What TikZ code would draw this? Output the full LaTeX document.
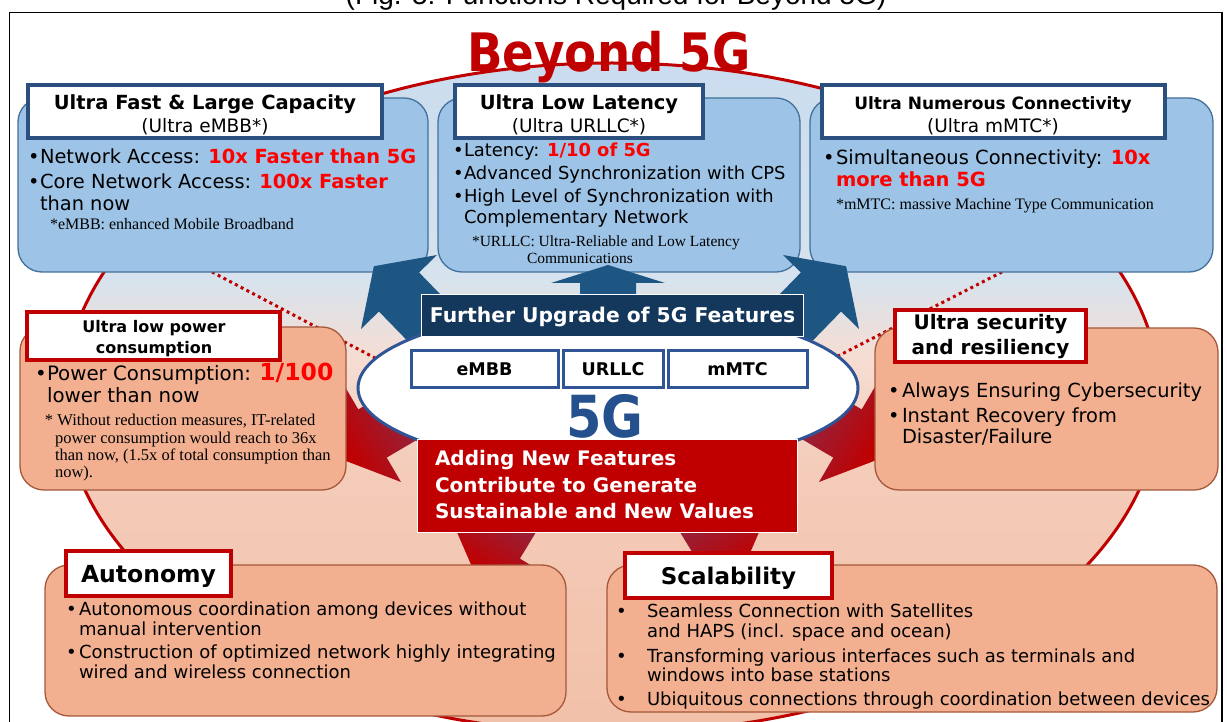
\documentclass[tikz,border=0pt]{standalone}
\usepackage{fontspec}
\setmainfont{DejaVu Sans}
\newfontfamily\notefont{Liberation Serif}
\newfontfamily\capfont{Liberation Sans}
\newfontfamily\titlefont{DejaVu Sans}[FakeStretch=0.88]
\usetikzlibrary{shapes.geometric}

\definecolor{boxblue}{HTML}{9DC3E6}
\definecolor{boxblueb}{HTML}{41719C}
\definecolor{navyb}{HTML}{2B4F7E}
\definecolor{salmon}{HTML}{F2B091}
\definecolor{salmonb}{HTML}{A5583A}
\definecolor{darkred}{HTML}{C00000}
\definecolor{brightred}{HTML}{FF0000}
\definecolor{arrowblue}{HTML}{1D5583}
\definecolor{navyfill}{HTML}{14375C}
\definecolor{fgblue}{HTML}{24508E}
\definecolor{ellb}{HTML}{2F5597}
\definecolor{arrowpurple}{HTML}{6A4577}
\definecolor{bgA}{HTML}{F2C0A8}
\definecolor{bgB}{HTML}{F4CCBA}
\definecolor{bgC}{HTML}{F6DDD3}
\definecolor{bgD}{HTML}{D6E3EE}
\definecolor{bgE}{HTML}{CADCEE}
\pgfdeclareverticalshading{bgshade}{100bp}{color(0bp)=(bgA); color(25bp)=(bgA); color(45bp)=(bgB); color(53bp)=(bgC); color(59bp)=(bgD); color(75bp)=(bgE); color(100bp)=(bgE)}

\newcommand\fs[2]{\fontsize{#1}{#2}\selectfont}
\newcommand\rd[1]{{\bfseries\color{brightred}#1}}

\begin{document}
\begin{tikzpicture}[x=1pt,y=-1pt,
  every node/.style={inner sep=0pt, outer sep=0pt},
  topbox/.style={draw=boxblueb, fill=boxblue, line width=1.3pt, rounded corners=24pt},
  sidebox/.style={draw=salmonb, fill=salmon, line width=1.3pt, rounded corners=24pt},
  ttlblue/.style={draw=navyb, fill=white, line width=3.2pt},
  ttlred/.style={draw=darkred, fill=white, line width=3.5pt},
  featbox/.style={draw=ellb, fill=white, line width=3pt},
  tx/.style={anchor=base west, text=black},
  tc/.style={anchor=base, text=black},
  body/.style={font=\fs{19.4}{22}},
  bodym/.style={font=\fs{17.9}{22}},
  bodyn/.style={font=\fs{18}{21}},
  note/.style={font=\notefont\fs{16}{18}},
  hd/.style={font=\bfseries\fs{19.5}{22}},
  sub/.style={font=\fs{18.5}{22}},
  bluearrow/.style={fill=arrowblue},
  redarrow/.style={left color=arrowpurple, right color=darkred},
  dotline/.style={draw=darkred, line width=3pt, dash pattern=on 3pt off 3.5pt}]
\useasboundingbox (0,0) rectangle (1227,722);
\clip (0,0) rectangle (1227,722);
\fill[white] (0,0) rectangle (1227,722);

% caption and frame
\node[font=\capfont\fs{28}{30}, anchor=base] (cap) at (616,5) {(Fig. 5: Functions Required for Beyond 5G)};
\draw[line width=1.5pt, fill=white] (9.5,12.5) rectangle (1222,740);

% big background ellipse
\shadedraw[shading=bgshade, draw=darkred, line width=3pt] (612,398) ellipse [x radius=548, y radius=335];
\node[font=\titlefont\bfseries\fs{53}{60}, text=darkred, anchor=base] (b5g) at (609,72) {Beyond 5G};

% dotted connectors
\coordinate (dl1) at (212,272); \coordinate (dl2) at (375,358);
\coordinate (dr1) at (1002,272); \coordinate (dr2) at (838,356);
\draw[dotline] (dl1) -- (dl2);
\draw[dotline] (dr1) -- (dr2);

% top boxes
\node[topbox, minimum width=410pt, minimum height=174pt] (tlbox) at (223,185) {};
\node[topbox, minimum width=362pt, minimum height=174pt] (tmbox) at (619,185) {};
\node[topbox, minimum width=403pt, minimum height=174pt] (trbox) at (1011.5,185) {};
\node[ttlblue, minimum width=354pt, minimum height=53pt] (tlt) at (205,111.5) {};
\node[ttlblue, minimum width=248pt, minimum height=53pt] (tmt) at (579,111.5) {};
\node[ttlblue, minimum width=343pt, minimum height=53pt] (trt) at (993.5,111.5) {};

% blue arrows
\fill[bluearrow] (441.7,376.0) -- (378.9,311.5) -- (361,329) -- (373.9,266.2) -- (437,255) -- (419.1,272.5) -- (481.9,337.0) -- cycle;
\fill[bluearrow] (778.3,376.0) -- (841.1,311.5) -- (859,329) -- (846.1,266.2) -- (783,255) -- (800.9,272.5) -- (738.1,337.0) -- cycle;
\fill[bluearrow] (580,300) -- (580,283) -- (551,283) -- (608,265) -- (665,283) -- (636,283) -- (636,300) -- cycle;

% top-left texts
\node[tc, hd] (tlh) at (205,110) {Ultra Fast \& Large Capacity};
\node[tc, sub] (tls) at (205,133) {(Ultra eMBB*)};
\node[tx, body] (tlb1) at (28,164) {•};
\node[tx, body] (tll1) at (40,164) {Network Access: \rd{10x Faster than 5G}};
\node[tx, body] (tlb2) at (28,189) {•};
\node[tx, body] (tll2) at (40,189) {Core Network Access: \rd{100x Faster}};
\node[tx, body] (tll3) at (40,211) {than now};
\node[tx, note] (tln) at (50,230) {*eMBB: enhanced Mobile Broadband};

% top-middle texts
\node[tc, hd] (tmh) at (579,110) {Ultra Low Latency};
\node[tc, sub] (tms) at (579,133) {(Ultra URLLC*)};
\node[tx, bodym] (tmb1) at (453,157) {•};
\node[tx, bodym] (tml1) at (464,157) {Latency: \rd{1/10 of 5G}};
\node[tx, bodym] (tmb2) at (453,180) {•};
\node[tx, bodym] (tml2) at (464,180) {Advanced Synchronization with CPS};
\node[tx, bodym] (tmb3) at (453,203) {•};
\node[tx, bodym] (tml3) at (464,203) {High Level of Synchronization with};
\node[tx, bodym] (tml4) at (464,224) {Complementary Network};
\node[tx, font=\notefont\fs{15.5}{18}] (tmn1) at (472,247) {*URLLC: Ultra-Reliable and Low Latency};
\node[tx, font=\notefont\fs{15.5}{18}] (tmn2) at (527,264) {Communications};

% top-right texts
\node[tc, font=\bfseries\fs{17}{20}] (trh) at (993,110) {Ultra Numerous Connectivity};
\node[tc, sub] (trs) at (993,133) {(Ultra mMTC*)};
\node[tx, font=\fs{19.5}{22}] (trb1) at (823,165) {•};
\node[tx, font=\fs{19.5}{22}] (trl1) at (836,165) {Simultaneous Connectivity: \rd{10x}};
\node[tx, font=\fs{19.5}{22}] (trl2) at (836,187) {\rd{more than 5G}};
\node[tx, note] (trn) at (836,210) {*mMTC: massive Machine Type Communication};

% red arrows (under side boxes)
\path[redarrow, shading angle=300.4] (453.1,353.7) -- (358.3,409.4) -- (344,385) -- (333.7,456.3) -- (401,482) -- (386.7,457.6) -- (481.5,401.9) -- cycle;
\path[redarrow, shading angle=59.6] (766.9,353.7) -- (861.7,409.4) -- (876,385) -- (886.3,456.3) -- (819,482) -- (833.3,457.6) -- (738.5,401.9) -- cycle;
\path[redarrow, shading angle=328.7] (518.9,452.5) -- (472.1,529.4) -- (449.9,515.9) -- (476.2,576.5) -- (542.1,572.1) -- (519.9,558.6) -- (566.7,481.7) -- cycle;
\path[redarrow, shading angle=31.3] (697.1,452.5) -- (743.9,529.4) -- (766.1,515.9) -- (739.8,576.5) -- (673.9,572.1) -- (696.1,558.6) -- (649.3,481.7) -- cycle;

% side and bottom boxes
\node[sidebox, minimum width=326pt, minimum height=163pt] (mlbox) at (183,408.5) {};
\node[sidebox, minimum width=343pt, minimum height=162pt] (mrbox) at (1046.5,409) {};
\node[sidebox, minimum width=521pt, minimum height=151pt] (blbox) at (305.5,640.5) {};
\node[sidebox, minimum width=610pt, minimum height=147pt] (brbox) at (912,638.5) {};
\node[ttlred, minimum width=253pt, minimum height=48pt] (mlt) at (153.5,336) {};
\node[ttlred, minimum width=191pt, minimum height=52pt] (mrt) at (990.5,336) {};
\node[ttlred, minimum width=165pt, minimum height=45pt] (blt) at (148.5,573.5) {};
\node[ttlred, minimum width=207pt, minimum height=45pt] (brt) at (728.5,575.5) {};

% middle-left texts
\node[tc, font=\bfseries\fs{16}{19}] (mlh1) at (154,333) {Ultra low power};
\node[tc, font=\bfseries\fs{16}{19}] (mlh2) at (154,353) {consumption};
\node[tx, font=\fs{19.8}{22}] (mlb1) at (35,380) {•};
\node[tx, font=\fs{19.8}{22}] (mll1) at (47,380) {Power Consumption: {\bfseries\color{brightred}\fs{23.5}{22}1/100}};
\node[tx, font=\fs{19.8}{22}] (mll2) at (47,402) {lower than now};
\node[tx, font=\notefont\fs{16.5}{18}] (mln1) at (45,425) {* Without reduction measures, IT-related};
\node[tx, font=\notefont\fs{16.5}{18}] (mln2) at (55,443) {power consumption would reach to 36x};
\node[tx, font=\notefont\fs{16.5}{18}] (mln3) at (55,460) {than now, (1.5x of total consumption than};
\node[tx, font=\notefont\fs{16.5}{18}] (mln4) at (55,477) {now).};

% middle-right texts
\node[tc, font=\bfseries\fs{20}{22}] (mrh1) at (990.5,329) {Ultra security};
\node[tc, font=\bfseries\fs{20}{22}] (mrh2) at (990.5,354) {and resiliency};
\node[tx, body] (mrb1) at (888,397) {•};
\node[tx, body] (mrl1) at (902,397) {Always Ensuring Cybersecurity};
\node[tx, body] (mrb2) at (888,422) {•};
\node[tx, body] (mrl2) at (902,422) {Instant Recovery from};
\node[tx, body] (mrl3) at (902,443) {Disaster/Failure};

% bottom-left texts
\node[tc, font=\bfseries\fs{23.5}{26}] (blh) at (148.5,582) {Autonomy};
\node[tx, bodyn] (blb1) at (66,615) {•};
\node[tx, bodyn] (bll1) at (79,615) {Autonomous coordination among devices without};
\node[tx, bodyn] (bll2) at (79,635) {manual intervention};
\node[tx, bodyn] (blb2) at (66,658) {•};
\node[tx, bodyn] (bll3) at (79,658) {Construction of optimized network highly integrating};
\node[tx, bodyn] (bll4) at (79,678) {wired and wireless connection};

% bottom-right texts
\node[tc, font=\bfseries\fs{23}{26}] (brh) at (728.5,584) {Scalability};
\node[tx, bodyn] (brb1) at (616,617) {•};
\node[tx, bodyn] (brl1) at (647,617) {Seamless Connection with Satellites};
\node[tx, bodyn] (brl2) at (647,637) {and HAPS (incl. space and ocean)};
\node[tx, bodyn] (brb2) at (616,662) {•};
\node[tx, bodyn] (brl3) at (647,662) {Transforming various interfaces such as terminals and};
\node[tx, bodyn] (brl4) at (647,681) {windows into base stations};
\node[tx, bodyn] (brb3) at (616,705) {•};
\node[tx, bodyn] (brl5) at (647,705) {Ubiquitous connections through coordination between devices};

% central 5G core
\node[ellipse, draw=ellb, fill=white, line width=3pt, minimum width=500pt, minimum height=160pt] (core) at (608,388) {};
\node[fill=navyfill, draw=white, line width=1pt, minimum width=382pt, minimum height=41pt] (upg) at (612.5,315.5) {};
\node[tc, font=\bfseries\fs{20.3}{22}, text=white] (upgt) at (612.5,323) {Further Upgrade of 5G Features};
\node[featbox, minimum width=147pt, minimum height=37pt] (f1) at (484.5,369) {};
\node[featbox, minimum width=100pt, minimum height=37pt] (f2) at (613,369) {};
\node[featbox, minimum width=139pt, minimum height=37pt] (f3) at (737.5,369) {};
\node[tc, font=\bfseries\fs{17.5}{20}] (f1t) at (484.5,375) {eMBB};
\node[tc, font=\bfseries\fs{17.5}{20}] (f2t) at (613,375) {URLLC};
\node[tc, font=\bfseries\fs{17.5}{20}] (f3t) at (737.5,375) {mMTC};
\node[tc, font=\titlefont\bfseries\fs{58}{60}, text=fgblue] (fiveg) at (605,437) {5G};
\node[fill=darkred, draw=white, line width=1pt, minimum width=380pt, minimum height=93pt] (newv) at (607.5,486) {};
\node[tx, font=\bfseries\fs{20}{22}, text=white] (nv1) at (435,465) {Adding New Features};
\node[tx, font=\bfseries\fs{20}{22}, text=white] (nv2) at (435,492) {Contribute to Generate};
\node[tx, font=\bfseries\fs{20}{22}, text=white] (nv3) at (435,518) {Sustainable and New Values};
\end{tikzpicture}
\end{document}
